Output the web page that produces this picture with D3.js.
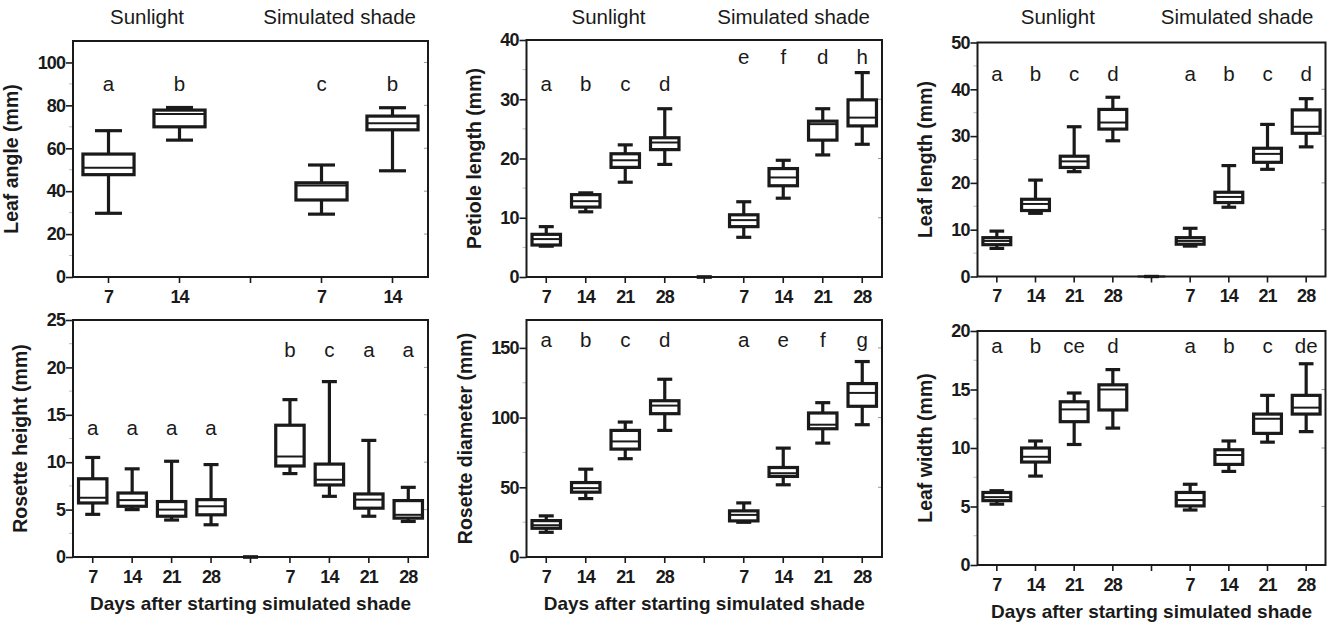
<!DOCTYPE html>
<html>
<head>
<meta charset="utf-8">
<script src="https://cdn.jsdelivr.net/npm/d3@7"></script>
<style>
  body { margin: 0; background: #fff; }
  svg { display: block; font-family: "Liberation Sans", Arial, sans-serif; }
  .tick text { font-weight: bold; font-size: 18px; fill: #1a1a1a; letter-spacing: -0.9px; }
  .tick line { stroke: #1a1a1a; stroke-width: 1.6; }
</style>
</head>
<body>
<svg id="chart" width="1331" height="622"></svg>
<script>
// x categories, the empty one is the gap between the two treatments
var days2 = ['7', '14', '', '7', '14'];
var days4 = ['7', '14', '21', '28', '', '7', '14', '21', '28'];

// each box: [low whisker, q1, median, q3, high whisker]
// the zero box in the gap is how Prism drew it
var leafAngle = [
  [29.7, 47.7, 50.9, 57.3, 68.2], [63.8, 70.0, 76.0, 77.8, 79.0], null,
  [29.3, 35.9, 42.7, 43.9, 52.2], [49.5, 68.6, 71.7, 75.0, 78.9]
];
var leafAngleLetters = ['a', 'b', '', 'c', 'b'];

var petioleLength = [
  [5.2, 5.4, 6.4, 7.2, 8.5], [11.0, 11.8, 12.8, 13.9, 14.2], [16.0, 18.5, 19.7, 20.8, 22.3], [19.0, 21.5, 22.7, 23.5, 28.4],
  [0, 0, 0, 0, 0],
  [6.7, 8.5, 9.6, 10.5, 12.7], [13.3, 15.4, 16.8, 18.3, 19.7], [20.6, 23.1, 25.8, 26.3, 28.4], [22.4, 25.5, 26.9, 29.9, 34.5]
];
var petioleLetters = ['a', 'b', 'c', 'd', '', 'e', 'f', 'd', 'h'];

var leafLength = [
  [6.0, 6.8, 7.6, 8.3, 9.7], [13.5, 14.1, 15.5, 16.5, 20.6], [22.4, 23.3, 24.6, 25.7, 32.0], [29.0, 31.5, 32.9, 35.7, 38.3],
  [0, 0, 0, 0, 0],
  [6.5, 6.9, 7.6, 8.3, 10.3], [14.8, 15.8, 17.0, 18.0, 23.7], [22.9, 24.4, 26.2, 27.4, 32.5], [27.7, 30.6, 32.0, 35.6, 38.0]
];
var leafLengthLetters = ['a', 'b', 'c', 'd', '', 'a', 'b', 'c', 'd'];

var rosetteHeight = [
  [4.5, 5.7, 6.25, 8.25, 10.5], [5.0, 5.35, 6.0, 6.75, 9.3], [3.9, 4.3, 5.0, 5.85, 10.1], [3.4, 4.45, 5.35, 6.05, 9.75],
  [0, 0, 0, 0, 0],
  [8.8, 9.6, 10.6, 13.9, 16.6], [6.4, 7.6, 8.15, 9.8, 18.5], [4.3, 5.15, 6.05, 6.65, 12.3], [3.75, 4.1, 4.45, 5.95, 7.35]
];
var rosetteHeightLetters = ['a', 'a', 'a', 'a', '', 'b', 'c', 'a', 'a'];

var rosetteDiameter = [
  [17.7, 20.6, 22.8, 26.1, 29.5], [41.9, 46.5, 49.4, 53.4, 63.0], [70.5, 77.4, 82.9, 90.8, 96.8], [90.8, 102.8, 108.6, 112.1, 127.5],
  null,
  [24.9, 25.9, 30.2, 33.1, 38.8], [51.8, 57.8, 60.1, 64.2, 78.1], [81.7, 92.0, 94.9, 103.3, 110.7], [94.9, 108.1, 117.7, 124.4, 140.2]
];
var rosetteDiameterLetters = ['a', 'b', 'c', 'd', '', 'a', 'e', 'f', 'g'];

var leafWidth = [
  [5.2, 5.5, 5.8, 6.2, 6.35], [7.6, 8.8, 9.25, 10.0, 10.6], [10.3, 12.25, 13.3, 13.95, 14.7], [11.7, 13.25, 15.0, 15.4, 16.7],
  null,
  [4.7, 5.05, 5.55, 6.2, 6.9], [8.0, 8.6, 9.4, 9.85, 10.6], [10.5, 11.25, 12.5, 12.9, 14.5], [11.4, 12.9, 13.45, 14.5, 17.2]
];
var leafWidthLetters = ['a', 'b', 'ce', 'd', '', 'a', 'b', 'c', 'de'];

var groupTitles = ['Sunlight', 'Simulated shade'];
var xTitle = 'Days after starting simulated shade';

// panel layout: frame box in px, y domain and letter heights (in data units)
var panels = [
  { x0: 73, x1: 428, y0: 41, y1: 277, yMax: 110, step: 20, cats: days2, boxes: leafAngle, letters: leafAngleLetters,
    letterY: [86.6, 86.6], yLabel: 'Leaf angle (mm)', top: true },
  { x0: 526.5, x1: 882, y0: 40, y1: 277, yMax: 40, step: 10, cats: days4, boxes: petioleLength, letters: petioleLetters,
    letterY: [31.4, 35.9], yLabel: 'Petiole length (mm)', top: true },
  { x0: 977.5, x1: 1325.5, y0: 42.5, y1: 276.5, yMax: 50, step: 10, cats: days4, boxes: leafLength, letters: leafLengthLetters,
    letterY: [41.8, 41.8], yLabel: 'Leaf length (mm)', top: true },
  { x0: 73, x1: 428, y0: 320, y1: 557, yMax: 25, step: 5, cats: days4, boxes: rosetteHeight, letters: rosetteHeightLetters,
    letterY: [12.9, 21.1], yLabel: 'Rosette height (mm)' },
  { x0: 526.5, x1: 882, y0: 320, y1: 557, yMax: 170, step: 50, cats: days4, boxes: rosetteDiameter, letters: rosetteDiameterLetters,
    letterY: [150.5, 150.5], yLabel: 'Rosette diameter (mm)' },
  { x0: 977.5, x1: 1325.5, y0: 331, y1: 565, yMax: 20, step: 5, cats: days4, boxes: leafWidth, letters: leafWidthLetters,
    letterY: [18.1, 18.1], yLabel: 'Leaf width (mm)' }
];

var ink = '#1a1a1a';
var svg = d3.select('#chart');

panels.forEach(function(p) {
  var g = svg.append('g');
  var idx = d3.range(p.cats.length);
  var gapAt = p.cats.indexOf('');

  var x = d3.scaleBand().domain(idx).range([p.x0, p.x1]);
  var y = d3.scaleLinear().domain([0, p.yMax]).range([p.y1, p.y0]);
  var bw = x.bandwidth() * 0.72,
    cap = x.bandwidth() * 0.38;

  //faint minor ticks on the left and inner ticks on the right
  var major = d3.range(0, p.yMax + 0.001, p.step);
  var minor = d3.range(p.step / 2, p.yMax, p.step);
  g.selectAll('.minor').data(minor).enter().append('line')
    .attr('x1', p.x0 - 4).attr('x2', p.x0)
    .attr('y1', d => y(d)).attr('y2', d => y(d))
    .attr('stroke', '#bbb').attr('stroke-width', 1);
  g.selectAll('.rtick').data(major.filter(d => d > 0 && y(d) > p.y0 + 2)).enter().append('line')
    .attr('x1', p.x1 - 4).attr('x2', p.x1)
    .attr('y1', d => y(d)).attr('y2', d => y(d))
    .attr('stroke', '#999').attr('stroke-width', 1);

  //axes
  g.append('g')
    .attr('transform', 'translate(' + p.x0 + ',0)')
    .call(d3.axisLeft(y).tickValues(major).tickSize(7).tickPadding(1))
    .call(a => a.select('.domain').remove());

  g.append('g')
    .attr('transform', 'translate(0,' + p.y1 + ')')
    .call(d3.axisBottom(x).tickFormat(i => p.cats[i]).tickSize(6).tickPadding(7))
    .call(a => a.select('.domain').remove());

  //frame
  g.append('rect')
    .attr('x', p.x0).attr('y', p.y0)
    .attr('width', p.x1 - p.x0).attr('height', p.y1 - p.y0)
    .attr('fill', 'none').attr('stroke', ink).attr('stroke-width', 2);

  //boxes
  var items = idx.filter(i => p.boxes[i]);
  var box = g.selectAll('.box').data(items).enter().append('g')
    .attr('transform', i => 'translate(' + (x(i) + x.bandwidth() / 2) + ',0)');

  box.append('line')
    .attr('y1', i => y(p.boxes[i][0])).attr('y2', i => y(p.boxes[i][4]))
    .attr('stroke', ink).attr('stroke-width', 3.2);

  box.selectAll('.cap').data(i => [p.boxes[i][0], p.boxes[i][4]]).enter().append('line')
    .attr('x1', -cap / 2).attr('x2', cap / 2)
    .attr('y1', d => y(d)).attr('y2', d => y(d))
    .attr('stroke', ink).attr('stroke-width', 3.2);

  box.append('rect')
    .attr('x', -bw / 2).attr('width', bw)
    .attr('y', i => y(p.boxes[i][3]))
    .attr('height', i => y(p.boxes[i][1]) - y(p.boxes[i][3]))
    .attr('fill', '#fff').attr('stroke', ink).attr('stroke-width', 3.2);

  box.append('line')
    .attr('x1', -bw / 2).attr('x2', bw / 2)
    .attr('y1', i => y(p.boxes[i][2])).attr('y2', i => y(p.boxes[i][2]))
    .attr('stroke', ink).attr('stroke-width', 2);

  //significance letters
  g.selectAll('.letter').data(idx.filter(i => p.letters[i])).enter().append('text')
    .attr('x', i => x(i) + x.bandwidth() / 2)
    .attr('y', i => y(p.letterY[i < gapAt ? 0 : 1]))
    .attr('text-anchor', 'middle')
    .attr('font-size', 20.5)
    .attr('fill', ink)
    .text(i => p.letters[i]);

  //y title
  var wide = p.yMax >= 100;
  g.append('text')
    .attr('transform', 'translate(' + (p.x0 - (wide ? 55 : 46)) + ',' + ((p.y0 + p.y1) / 2) + ') rotate(-90)')
    .attr('text-anchor', 'middle')
    .attr('font-size', 19.5).attr('font-weight', 'bold')
    .attr('fill', ink)
    .text(p.yLabel);

  if (p.top) {
    var sunMid = d3.mean(idx.filter(i => i < gapAt), i => x(i) + x.bandwidth() / 2);
    g.append('text')
      .attr('x', sunMid + 3).attr('y', 24)
      .attr('text-anchor', 'middle').attr('font-size', 20.5).attr('fill', ink)
      .text(groupTitles[0]);
    g.append('text')
      .attr('x', p.x1 - 12).attr('y', 24)
      .attr('text-anchor', 'end').attr('font-size', 20.5).attr('fill', ink)
      .text(groupTitles[1]);
  } else {
    g.append('text')
      .attr('x', (p.x0 + p.x1) / 2).attr('y', p.y1 + 53)
      .attr('text-anchor', 'middle')
      .attr('font-size', 19).attr('font-weight', 'bold').attr('fill', ink)
      .text(xTitle);
  }
});
</script>
</body>
</html>
